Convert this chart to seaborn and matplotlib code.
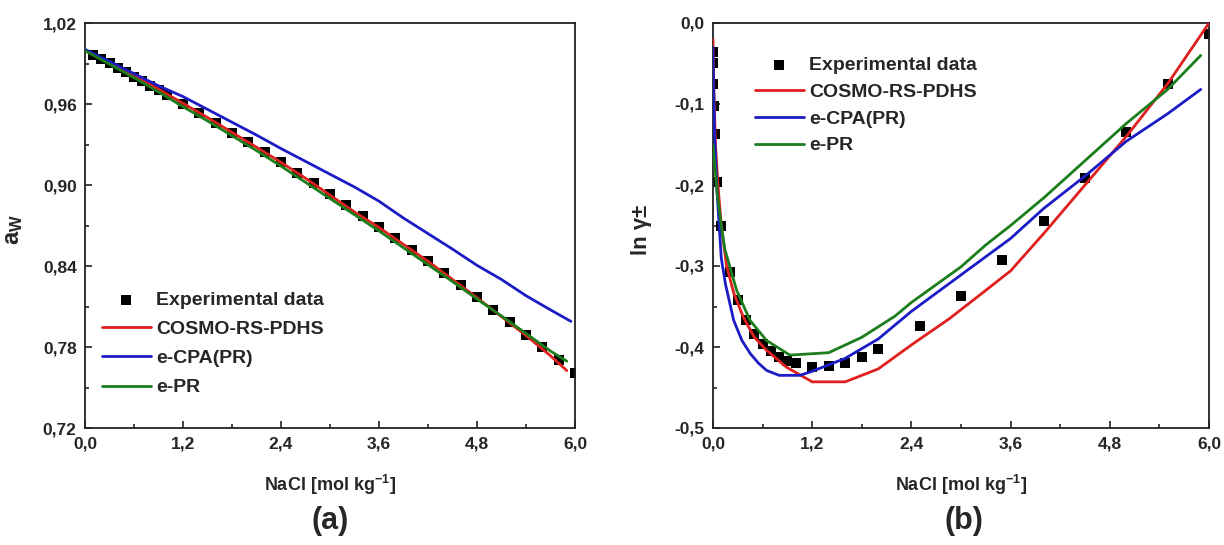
import numpy as np
import pandas as pd
import matplotlib
matplotlib.use('Agg')
import matplotlib.pyplot as plt
from matplotlib.ticker import MultipleLocator, FuncFormatter
import seaborn as sns

sns.set_style('ticks')
plt.rcParams['font.family'] = ['Liberation Sans', 'DejaVu Sans']
plt.rcParams['font.weight'] = 'bold'
plt.rcParams['mathtext.fontset'] = 'custom'
plt.rcParams['mathtext.rm'] = 'Liberation Sans'
plt.rcParams['mathtext.bf'] = 'Liberation Sans:bold'

RED = '#e01f1f'
BLUE = '#1c1cc6'
GREEN = '#1b7d1b'

# ---- panel (a): water activity ----
exp_m_a = [0.1, 0.2, 0.3, 0.4, 0.5, 0.6, 0.7, 0.8, 0.9, 1.0,
           1.2, 1.4, 1.6, 1.8, 2.0, 2.2, 2.4, 2.6, 2.8, 3.0,
           3.2, 3.4, 3.6, 3.8, 4.0, 4.2, 4.4, 4.6, 4.8, 5.0,
           5.2, 5.4, 5.6, 5.8, 6.0]
exp_aw = [0.99665, 0.99336, 0.99009, 0.98682, 0.98355, 0.98025, 0.97692, 0.97359, 0.97023, 0.96686,
          0.95998, 0.95302, 0.94596, 0.93879, 0.93155, 0.92416, 0.91667, 0.90903, 0.90129, 0.89343,
          0.88544, 0.87732, 0.86908, 0.86070, 0.85219, 0.84356, 0.83480, 0.82592, 0.81690, 0.80776,
          0.79853, 0.78918, 0.77974, 0.77020, 0.76056]

cosmo_m_a = [0.0, 0.3, 0.6, 0.9, 1.2, 1.5, 1.8, 2.1, 2.4, 2.7, 3.0,
             3.3, 3.6, 3.9, 4.2, 4.5, 4.8, 5.1, 5.4, 5.7, 5.9]
cosmo_aw = [1.000, 0.9905, 0.981, 0.971, 0.9605, 0.950, 0.939, 0.928, 0.9168, 0.905, 0.8925,
            0.880, 0.8685, 0.856, 0.8435, 0.830, 0.8165, 0.8025, 0.7885, 0.7735, 0.7625]

cpa_m_a = [0.0, 0.3, 0.6, 0.9, 1.2, 1.5, 1.8, 2.1, 2.4, 2.7, 3.0,
           3.3, 3.6, 3.9, 4.2, 4.5, 4.8, 5.1, 5.4, 5.7, 5.95]
cpa_aw = [1.0005, 0.9915, 0.9825, 0.9735, 0.9655, 0.956, 0.9465, 0.937, 0.927, 0.9175, 0.908,
          0.8985, 0.888, 0.8755, 0.864, 0.8525, 0.8405, 0.830, 0.818, 0.8075, 0.799]

epr_m_a = [0.0, 0.3, 0.6, 0.9, 1.2, 1.5, 1.8, 2.1, 2.4, 2.7, 3.0,
           3.3, 3.6, 3.9, 4.2, 4.5, 4.8, 5.1, 5.4, 5.7, 5.9]
epr_aw = [0.9995, 0.9895, 0.9795, 0.969, 0.958, 0.9475, 0.9365, 0.9255, 0.914, 0.902, 0.890,
          0.878, 0.866, 0.8535, 0.841, 0.8285, 0.8155, 0.803, 0.790, 0.777, 0.7695]

# ---- panel (b): ln gamma+- ----
exp_m_b = [0.001, 0.002, 0.005, 0.01, 0.02, 0.05, 0.1, 0.2, 0.3, 0.4,
           0.5, 0.6, 0.7, 0.8, 0.9, 1.0, 1.2, 1.4, 1.6, 1.8,
           2.0, 2.5, 3.0, 3.5, 4.0, 4.5, 5.0, 5.5, 6.0]
exp_lng = [-0.0356, -0.0492, -0.0747, -0.1020, -0.1370, -0.1960, -0.2510, -0.3080, -0.3420, -0.3670,
           -0.3840, -0.3960, -0.4050, -0.4120, -0.4170, -0.4200, -0.4250, -0.4230, -0.4200, -0.4120,
           -0.4030, -0.3740, -0.3370, -0.2930, -0.2450, -0.1910, -0.1350, -0.0750, -0.0140]

cosmo_m_b = [0.0, 0.01, 0.03, 0.06, 0.1, 0.165, 0.25, 0.366, 0.5, 0.648, 0.89, 1.2, 1.6,
             2.0, 2.42, 2.86, 3.2, 3.6, 4.0, 4.5, 5.0, 5.5, 6.0]
cosmo_lng = [-0.02, -0.08, -0.15, -0.20, -0.25, -0.30, -0.333, -0.363, -0.388, -0.404, -0.425, -0.443, -0.443,
             -0.427, -0.396, -0.365, -0.338, -0.306, -0.26, -0.20, -0.14, -0.075, 0.0]

cpa_m_b = [0.0, 0.005, 0.02, 0.05, 0.1, 0.15, 0.25, 0.35, 0.45, 0.55, 0.65, 0.8, 1.05,
           1.2, 1.6, 2.0, 2.4, 3.0, 3.6, 4.0, 4.5, 5.0, 5.5, 5.9]
cpa_lng = [-0.03, -0.07, -0.14, -0.21, -0.29, -0.322, -0.367, -0.392, -0.408, -0.42, -0.429, -0.435, -0.435,
           -0.43, -0.414, -0.39, -0.356, -0.311, -0.266, -0.229, -0.189, -0.146, -0.112, -0.082]

epr_m_b = [0.0, 0.05, 0.1, 0.145, 0.286, 0.447, 0.648, 0.93, 1.4, 1.8, 2.2, 2.4, 3.0,
           3.3, 3.6, 4.0, 4.5, 5.0, 5.5, 5.9]
epr_lng = [-0.15, -0.21, -0.25, -0.28, -0.33, -0.367, -0.392, -0.41, -0.407, -0.388, -0.362, -0.345, -0.301,
           -0.274, -0.25, -0.216, -0.17, -0.124, -0.082, -0.04]


def comma_fmt(decimals):
    def f(v, pos):
        if abs(v) < 1e-9:
            v = 0.0
        return f"{v:.{decimals}f}".replace('.', ',')
    return FuncFormatter(f)


def style_axes(ax):
    for sp in ax.spines.values():
        sp.set_visible(True)
        sp.set_linewidth(1.3)
        sp.set_color('#222222')
    ax.tick_params(which='both', direction='in', top=False, right=False, width=1.2, color='#222222')
    ax.tick_params(which='major', length=5, labelsize=12.5, pad=6)
    ax.tick_params(which='minor', length=3)
    for lab in ax.get_xticklabels() + ax.get_yticklabels():
        lab.set_fontweight('bold')
    ax.grid(False)


fig = plt.figure(figsize=(12.24, 5.45), dpi=100)
ax1 = fig.add_axes([85 / 1224, 1 - 428 / 545, 490 / 1224, 405 / 545])
ax2 = fig.add_axes([713 / 1224, 1 - 428 / 545, 496 / 1224, 405 / 545])

# panel (a)
sns.scatterplot(x=exp_m_a, y=exp_aw, marker='s', s=54, color='black', linewidth=0,
                label='Experimental data', legend=False, ax=ax1, zorder=2)
sns.lineplot(x=cosmo_m_a, y=cosmo_aw, color=RED, lw=2, label='COSMO-RS-PDHS', legend=False, ax=ax1, zorder=3)
sns.lineplot(x=cpa_m_a, y=cpa_aw, color=BLUE, lw=2, label='e-CPA(PR)', legend=False, ax=ax1, zorder=3)
sns.lineplot(x=epr_m_a, y=epr_aw, color=GREEN, lw=2, label='e-PR', legend=False, ax=ax1, zorder=3)

ax1.set_xlim(0, 6.0)
ax1.set_ylim(0.72, 1.02)
ax1.xaxis.set_major_locator(MultipleLocator(1.2))
ax1.xaxis.set_minor_locator(MultipleLocator(0.6))
ax1.yaxis.set_major_locator(MultipleLocator(0.06))
ax1.yaxis.set_minor_locator(MultipleLocator(0.03))
ax1.xaxis.set_major_formatter(comma_fmt(1))
ax1.yaxis.set_major_formatter(comma_fmt(2))
ax1.set_xlabel('NaCl [mol kg$^{\\mathbf{-1}}$]', fontsize=13, fontweight='bold')
ax1.set_ylabel('$\\mathbf{a_W}$', fontsize=17)
ax1.xaxis.set_label_coords(0.5, -0.112)
ax1.yaxis.set_label_coords(-0.122, 0.49)
style_axes(ax1)

# panel (b)
sns.scatterplot(x=exp_m_b, y=exp_lng, marker='s', s=54, color='black', linewidth=0,
                label='Experimental data', legend=False, ax=ax2, zorder=2)
sns.lineplot(x=cosmo_m_b, y=cosmo_lng, color=RED, lw=2, label='COSMO-RS-PDHS', legend=False, ax=ax2, zorder=3)
sns.lineplot(x=cpa_m_b, y=cpa_lng, color=BLUE, lw=2, label='e-CPA(PR)', legend=False, ax=ax2, zorder=3)
sns.lineplot(x=epr_m_b, y=epr_lng, color=GREEN, lw=2, label='e-PR', legend=False, ax=ax2, zorder=3)

ax2.set_xlim(0, 6.0)
ax2.set_ylim(-0.5, 0.0)
ax2.xaxis.set_major_locator(MultipleLocator(1.2))
ax2.xaxis.set_minor_locator(MultipleLocator(0.6))
ax2.yaxis.set_major_locator(MultipleLocator(0.1))
ax2.yaxis.set_minor_locator(MultipleLocator(0.05))
ax2.xaxis.set_major_formatter(comma_fmt(1))
ax2.yaxis.set_major_formatter(comma_fmt(1))
ax2.set_xlabel('NaCl [mol kg$^{\\mathbf{-1}}$]', fontsize=13, fontweight='bold')
ax2.set_ylabel('ln γ±', fontsize=16, fontweight='bold')
ax2.xaxis.set_label_coords(0.5, -0.112)
ax2.yaxis.set_label_coords(-0.122, 0.49)
style_axes(ax2)

# legends, experimental data first
order = ['Experimental data', 'COSMO-RS-PDHS', 'e-CPA(PR)', 'e-PR']
for ax, anchor, spacing in [(ax1, (102 / 1224, 1 - 291 / 545), 0.6),
                            (ax2, (755 / 1224, 1 - 56 / 545), 0.48)]:
    h, l = ax.get_legend_handles_labels()
    hd = dict(zip(l, h))
    leg = ax.legend([hd[k] for k in order], order, loc='upper left', bbox_to_anchor=anchor,
                    bbox_transform=fig.transFigure, frameon=False, fontsize=14,
                    handlelength=2.5, handletextpad=0.3, labelspacing=spacing,
                    borderpad=0, borderaxespad=0)
    for t in leg.get_texts():
        t.set_fontweight('bold')

fig.text(330 / 1224, 1 - 521 / 545, '(a)', ha='center', va='center', fontsize=22, fontweight='bold')
fig.text(964 / 1224, 1 - 521 / 545, '(b)', ha='center', va='center', fontsize=22, fontweight='bold')

fig.savefig('out.png', dpi=100, facecolor='white')
